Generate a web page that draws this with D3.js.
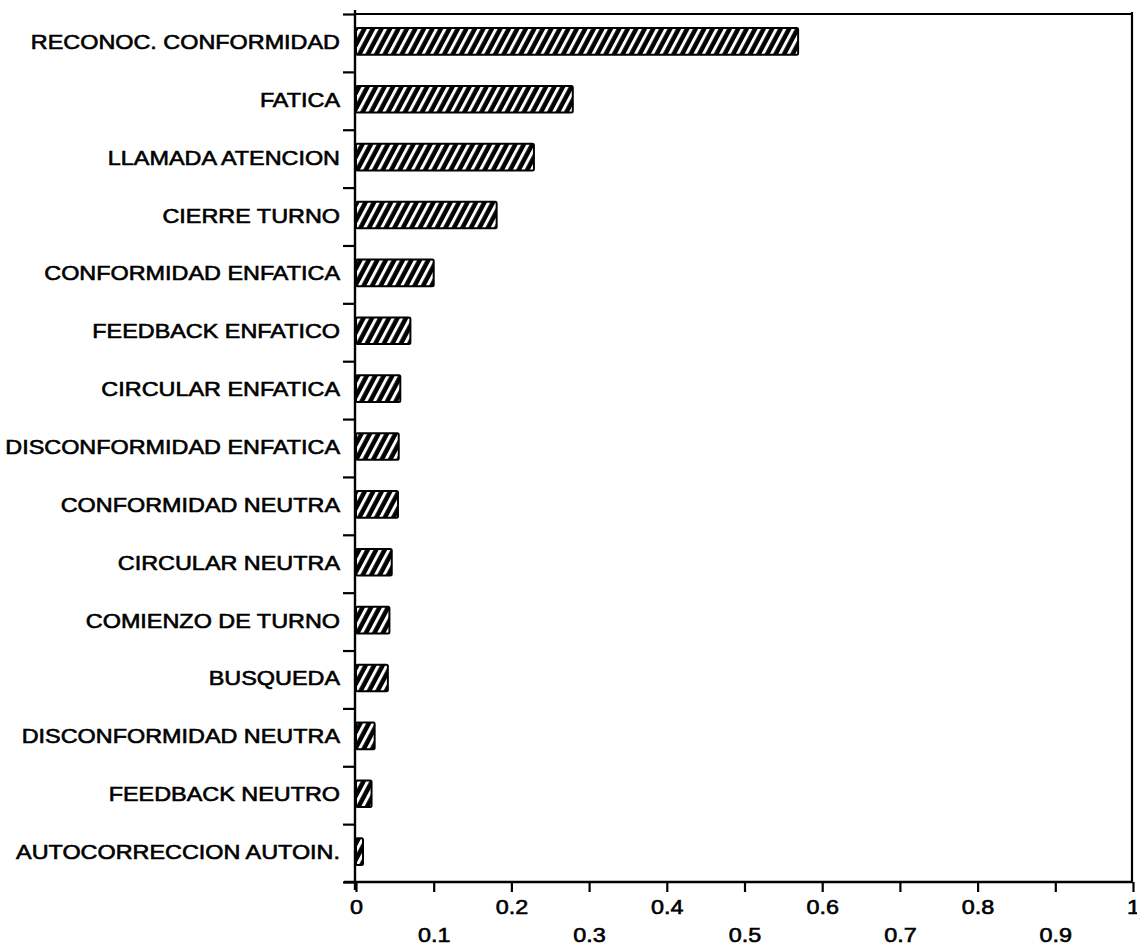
<!DOCTYPE html>
<html>
<head>
<meta charset="utf-8">
<script src="https://cdn.jsdelivr.net/npm/d3@7"></script>
<style>
  html, body { margin: 0; padding: 0; background: #fff; }
  svg { display: block; }
  .lbl { font-family: "Liberation Sans", Arial, Helvetica, sans-serif; font-size: 20px; fill: #000; stroke: #000; stroke-width: 0.6px; }
</style>
</head>
<body>
<svg id="chart" width="1137" height="946"></svg>
<script>
// Categories, top to bottom
const categories = [
  "RECONOC. CONFORMIDAD",
  "FATICA",
  "LLAMADA ATENCION",
  "CIERRE TURNO",
  "CONFORMIDAD ENFATICA",
  "FEEDBACK ENFATICO",
  "CIRCULAR ENFATICA",
  "DISCONFORMIDAD ENFATICA",
  "CONFORMIDAD NEUTRA",
  "CIRCULAR NEUTRA",
  "COMIENZO DE TURNO",
  "BUSQUEDA",
  "DISCONFORMIDAD NEUTRA",
  "FEEDBACK NEUTRO",
  "AUTOCORRECCION AUTOIN."
];

// Proportion for each category
const values = [0.569, 0.279, 0.229, 0.181, 0.100, 0.070, 0.057, 0.055, 0.054, 0.046, 0.043, 0.041, 0.024, 0.020, 0.009];

// X axis tick values
const xTicks = [0, 0.1, 0.2, 0.3, 0.4, 0.5, 0.6, 0.7, 0.8, 0.9, 1];

const svg = d3.select("#chart");
const plotLeft = 356, plotRight = 1133, plotTop = 14, plotBottom = 882;

const x = d3.scaleLinear().domain([0, 1]).range([plotLeft, plotRight]);
const y = d3.scaleBand().domain(categories).range([plotTop, plotBottom])
  .paddingInner(0.54).paddingOuter(0.27);
const yEdge = d3.scaleLinear().domain([0, categories.length]).range([plotTop, plotBottom]);

// Hatch fill: black with thin white diagonal stripes
const defs = svg.append("defs");
const pat = defs.append("pattern")
  .attr("id", "hatch")
  .attr("patternUnits", "userSpaceOnUse")
  .attr("width", 7.5).attr("height", 20)
  .attr("patternTransform", "rotate(28)");
pat.append("rect").attr("width", 7.5).attr("height", 20).attr("fill", "#000");
pat.append("rect").attr("x", 0).attr("width", 3).attr("height", 20).attr("fill", "#fff");

// Frame top and right
svg.append("line").attr("x1", plotLeft - 2).attr("x2", plotRight).attr("y1", plotTop).attr("y2", plotTop)
  .attr("stroke", "#000").attr("stroke-width", 2.2);
svg.append("line").attr("x1", plotRight - 1).attr("x2", plotRight - 1).attr("y1", plotTop - 2).attr("y2", plotBottom)
  .attr("stroke", "#000").attr("stroke-width", 2.2);

// Bars
svg.append("g").selectAll("rect")
  .data(categories)
  .join("rect")
  .attr("x", x(0))
  .attr("y", d => y(d) - 1.5)
  .attr("width", (d, i) => x(values[i]) - x(0))
  .attr("height", y.bandwidth())
  .attr("fill", "url(#hatch)")
  .attr("stroke", "#000")
  .attr("stroke-width", 2)
  .attr("rx", 1.5);

// Left axis: ticks at category boundaries
const leftAxis = svg.append("g")
  .attr("transform", `translate(${plotLeft - 1},0)`)
  .call(d3.axisLeft(yEdge).tickValues(d3.range(categories.length + 1)).tickFormat("").tickSize(12).tickSizeOuter(0));
leftAxis.select(".domain").attr("stroke-width", 2.4).attr("d", `M0,${plotTop - 4}V${plotBottom + 8}`);
leftAxis.selectAll(".tick line").attr("stroke-width", 2.2);

// Category labels
svg.append("g").selectAll("text")
  .data(categories)
  .join("text")
  .attr("class", "lbl")
  .attr("text-anchor", "end")
  .attr("transform", d => `translate(340,${y(d) + y.bandwidth() / 2 + 6}) scale(1.17,1)`)
  .text(d => d);

// Bottom axis with staggered labels
const bottomAxis = svg.append("g")
  .attr("transform", `translate(0,${plotBottom})`)
  .call(d3.axisBottom(x).tickValues(xTicks).tickFormat(d => d3.format("")(+d.toFixed(1))).tickSize(10).tickSizeOuter(0));
bottomAxis.select(".domain").attr("stroke-width", 2.4).attr("d", `M${plotLeft - 12},0H${plotRight}`);
bottomAxis.selectAll(".tick line").attr("stroke-width", 2.2);
bottomAxis.selectAll(".tick text")
  .attr("class", "lbl")
  .attr("font-size", null)
  .attr("font-family", null)
  .attr("y", null).attr("dy", null)
  .attr("transform", (d, i) => `translate(0,${i % 2 === 0 ? 32 : 60}) scale(1.17,1)`);
</script>
</body>
</html>
